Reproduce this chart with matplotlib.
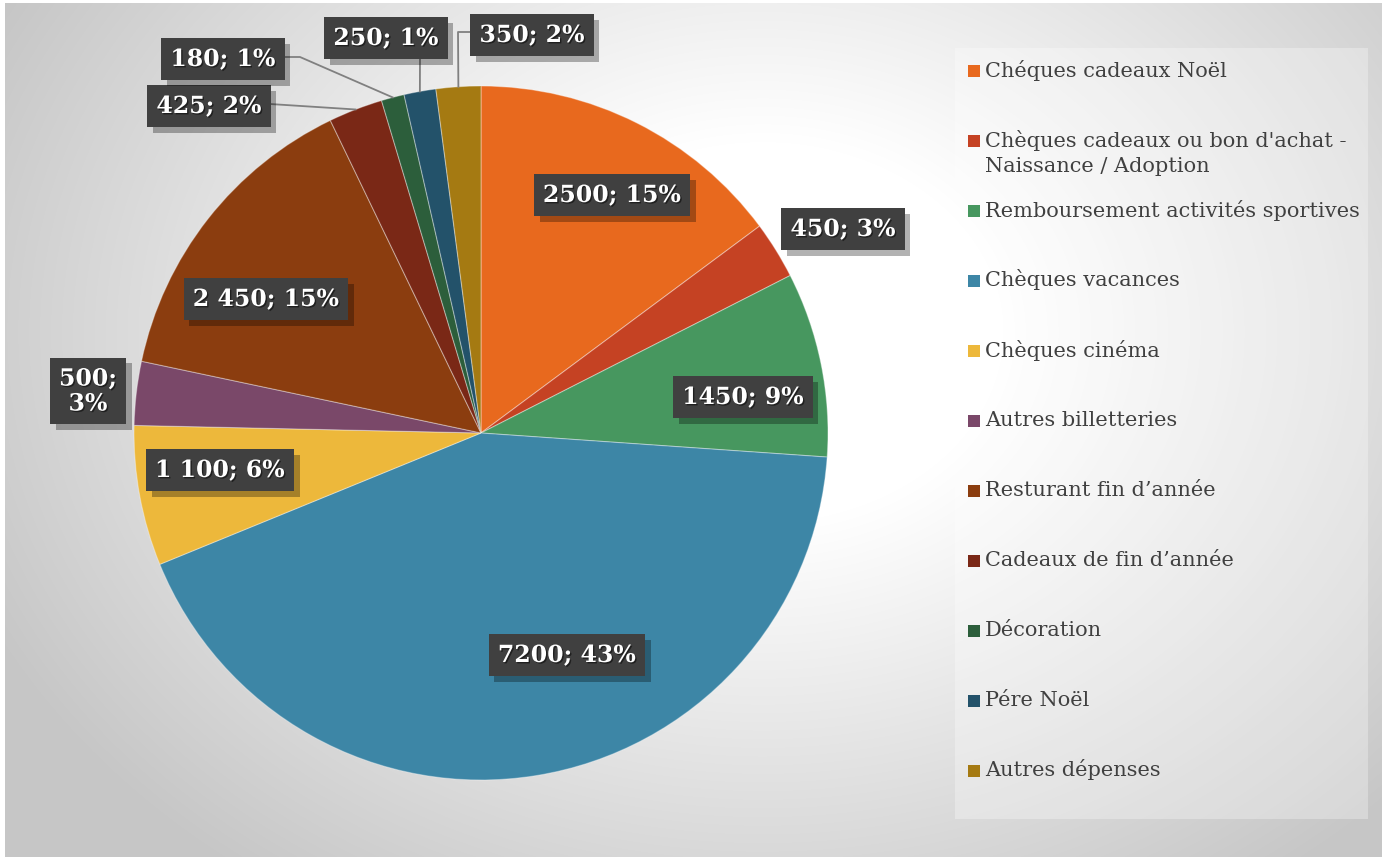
import numpy as np
import matplotlib
matplotlib.use("Agg")
import matplotlib.pyplot as plt
import matplotlib.patheffects as pe

# data
categories = ["Chéques cadeaux Noël",
              "Chèques cadeaux ou bon d'achat -\nNaissance / Adoption",
              "Remboursement activités sportives",
              "Chèques vacances",
              "Chèques cinéma",
              "Autres billetteries",
              "Resturant fin d’année",
              "Cadeaux de fin d’année",
              "Décoration",
              "Pére Noël",
              "Autres dépenses"]
values = [2500, 450, 1450, 7200, 1100, 500, 2450, 425, 180, 250, 350]
value_text = ["2500", "450", "1450", "7200", "1 100", "500", "2 450", "425", "180", "250", "350"]
pct_text = ["15%", "3%", "9%", "43%", "6%", "3%", "15%", "2%", "1%", "1%", "2%"]
colors = ["#E8691E", "#C54223", "#47975F", "#3D86A6", "#EDB83B", "#7A4869",
          "#8B3D0F", "#7A2816", "#2C5E3B", "#23526A", "#A57A12"]

W, H = 1382, 857
CX, CY, R = 481, 433, 347

fig = plt.figure(figsize=(W / 100, H / 100), dpi=100, facecolor="white")

# background with radial gradient
bg = fig.add_axes([0, 0, 1, 1])
bg.set_xlim(0, W)
bg.set_ylim(H, 0)
bg.axis("off")
yy, xx = np.mgrid[0:H, 0:W]
d = np.sqrt(((xx - 760) / 1.1) ** 2 + ((yy - 330) * 1.15) ** 2)
val = 1 - 0.22 * np.clip((d - 220) / 560, 0, 1)
img = np.dstack([val, val, val])
bg.imshow(img, extent=(5, W, H, 3), aspect="auto", interpolation="bilinear")

# legend panel
bg.add_patch(plt.Rectangle((955, 48), 413, 771, fc="white", ec="none", alpha=0.3))
for i, (name, c) in enumerate(zip(categories, colors)):
    y0 = 70 + 70 * i
    bg.add_patch(plt.Rectangle((968, y0 - 5), 12, 12, fc=c, ec="none"))
    for j, line in enumerate(name.split("\n")):
        bg.text(985, y0 + 26 * j, line, fontsize=15, family="DejaVu Serif",
                color="#404040", va="center", ha="left")

# pie
ax = fig.add_axes([(CX - R) / W, (H - CY - R) / H, 2 * R / W, 2 * R / H])
wedges, _ = ax.pie(values, colors=colors, startangle=90, counterclock=False, radius=1,
                   wedgeprops=dict(edgecolor=(1, 1, 1, 0.35), linewidth=0.8))
ax.set_xlim(-1, 1)
ax.set_ylim(-1, 1)
ax.set_aspect("equal")
ax.axis("off")


def px(x, y):
    return ((x - CX) / R, (CY - y) / R)


def wedge_edge(w):
    a = np.deg2rad((w.theta1 + w.theta2) / 2)
    return (np.cos(a), np.sin(a))


label_pos = [(612, 195), (843, 229), (743, 397), (567, 655), (220, 470), (88, 391),
             (266, 299), (209, 106), (223, 59), (386, 38), (532, 35)]
leaders = {7: [(270, 104)], 8: [(285, 57), (300, 57)], 9: [(420, 57)], 10: [(470, 32), (458, 32)]}

for idx in leaders:
    pts = [px(*p) for p in leaders[idx]] + [wedge_edge(wedges[idx])]
    xs, ys = zip(*pts)
    ax.plot(xs, ys, color="#808080", lw=1.3, zorder=3, clip_on=False)

for i in range(len(values)):
    txt = f"{value_text[i]}; {pct_text[i]}"
    if i == 5:
        txt = f"{value_text[i]};\n{pct_text[i]}"
    x, y = px(*label_pos[i])
    t = ax.text(x, y, txt, ha="center", va="center", fontsize=17, family="DejaVu Serif",
                fontweight="bold", color="white", zorder=5, linespacing=1.05,
                bbox=dict(boxstyle="square,pad=0.38", fc="#404040", ec="none"),
                path_effects=[pe.withSimplePatchShadow(offset=(1, -1), shadow_rgbFace="black", alpha=0.5)])
    t.get_bbox_patch().set_path_effects([pe.SimplePatchShadow(offset=(4, -4), shadow_rgbFace="black", alpha=0.3),
                                         pe.Normal()])

fig.savefig("out.png", dpi=100, facecolor=fig.get_facecolor())
